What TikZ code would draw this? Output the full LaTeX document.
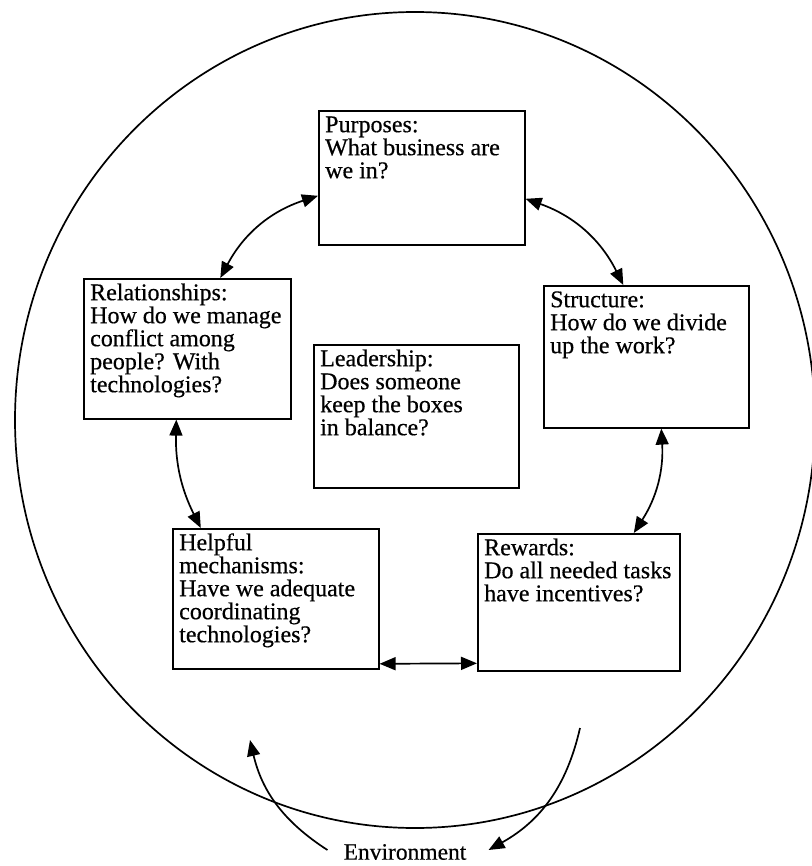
\documentclass[tikz,border=0pt]{standalone}
\usepackage{fontspec}
\setmainfont{Liberation Serif}[FakeBold=0.5]
\usetikzlibrary{arrows.meta}
\newcommand{\firstline}{\rule{0pt}{17pt}}
\begin{document}
\begin{tikzpicture}[x=1pt,y=-1pt,
  box/.style={draw, line width=1.6pt, inner sep=0pt, anchor=north west},
  txt/.style={inner sep=0pt, anchor=north west, align=left,
    font=\fontsize{24}{23}\selectfont},
  link/.style={line width=1.7pt,
    {Triangle[length=16pt,width=13pt]}-{Triangle[length=16pt,width=13pt]}},
  oneway/.style={line width=1.7pt, -{Triangle[length=16pt,width=13pt]}}]
\useasboundingbox (0,0) rectangle (811,866);

% the environment
\draw[line width=1.7pt] (415,420) ellipse [x radius=400, y radius=408];

% the six boxes
\node[box, minimum width=206pt, minimum height=134pt] (pur) at (318,110) {};
\node[box, minimum width=207pt, minimum height=140pt] (rel) at (83,278) {};
\node[box, minimum width=205pt, minimum height=142pt] (str) at (543,285) {};
\node[box, minimum width=205pt, minimum height=143pt] (lea) at (313,344) {};
\node[box, minimum width=206pt, minimum height=140pt] (hel) at (172,528) {};
\node[box, minimum width=202pt, minimum height=137pt] (rew) at (477,533) {};

\node[txt] (purT) at ([xshift=7pt,yshift=-5pt]pur.north west)
  {\firstline Purposes:\\What business are\\we in?};
\node[txt] (relT) at ([xshift=7pt,yshift=-5pt]rel.north west)
  {\firstline Relationships:\\How do we manage\\conflict among\\people? With\\technologies?};
\node[txt] (strT) at ([xshift=7pt,yshift=-5pt]str.north west)
  {\firstline Structure:\\How do we divide\\up the work?};
\node[txt] (leaT) at ([xshift=7pt,yshift=-5pt]lea.north west)
  {\firstline Leadership:\\Does someone\\keep the boxes\\in balance?};
\node[txt] (helT) at ([xshift=7pt,yshift=-5pt]hel.north west)
  {\firstline Helpful\\mechanisms:\\Have we adequate\\coordinating\\technologies?};
\node[txt] (rewT) at ([xshift=7pt,yshift=-5pt]rew.north west)
  {\firstline Rewards:\\Do all needed tasks\\have incentives?};

% two-way links around the ring
\draw[link] ([yshift=-18pt]pur.west) to[bend right=22] ([xshift=33pt]rel.north);
\draw[link] ([yshift=-21pt]pur.east) to[bend left=22] ([xshift=-23pt]str.north);
\draw[link] ([xshift=15pt]str.south) to[bend left=18] ([xshift=55pt]rew.north);
\draw[link] ([yshift=-65pt]hel.east) -- ([yshift=-61pt]rew.west);
\draw[link] ([xshift=-11pt]rel.south) to[bend right=14] ([xshift=-75pt]hel.north);

% exchange with the environment
\node[inner sep=0pt, font=\fontsize{23.5}{23}\selectfont] (env) at (405,852) {Environment};
\coordinate (inTip) at (250,740);
\coordinate (outTop) at (580,728);
\draw[oneway] ([xshift=-16pt,yshift=2pt]env.west) to[bend left=22] (inTip);
\draw[oneway] (outTop) to[bend left=24] ([xshift=22pt,yshift=2pt]env.east);
\end{tikzpicture}
\end{document}
